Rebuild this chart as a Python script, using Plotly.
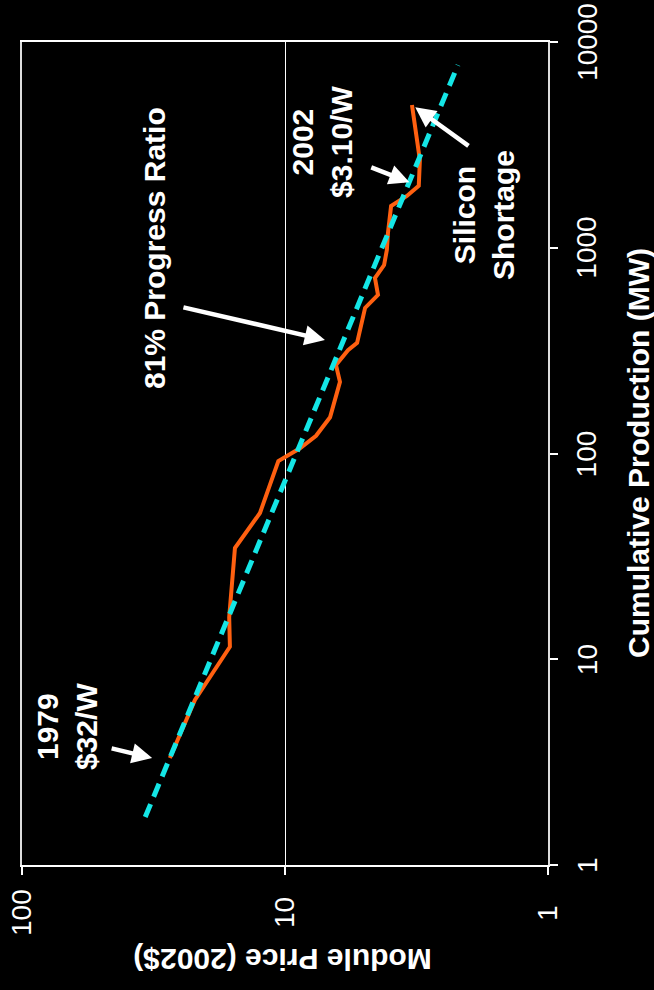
import math
import plotly.graph_objects as go

# Module price experience curve (2002$) against cumulative production
cum_mw = [3.31, 6.34, 11.5, 16.0, 34.7, 51.4, 91.9, 106, 122, 150, 223, 269, 318,
          345, 510, 590, 713, 824, 975, 1180, 1595, 1785, 2000, 2670, 4940]
price = [27.4, 22.0, 16.2, 16.3, 15.5, 12.45, 10.6, 8.77, 7.62, 6.74, 6.18, 6.40,
         5.76, 5.32, 4.96, 4.43, 4.55, 4.20, 4.10, 4.06, 3.95, 3.44, 3.10, 3.07, 3.29]

# Fitted experience line (81% progress ratio)
fit_mw = [1.71, 7730]
fit_price = [34.0, 2.20]

price_ticks = [100, 10, 1]
mw_ticks = [1, 10, 100, 1000, 10000]

FONT = "Liberation Sans, Arial, sans-serif"
WHITE = "#FFFFFF"

fig = go.Figure()
fig.add_trace(go.Scatter(x=price, y=cum_mw, mode="lines",
                         line=dict(color="#FF6010", width=4), showlegend=False))
fig.add_trace(go.Scatter(x=fit_price, y=fit_mw, mode="lines",
                         line=dict(color="#14E6E6", width=5, dash="14px,8px"),
                         showlegend=False))

fig.update_layout(
    width=654, height=990,
    margin=dict(l=22, r=106, t=42, b=125),
    paper_bgcolor="black", plot_bgcolor="black",
    font=dict(family=FONT, color=WHITE),
    xaxis=dict(type="log", range=[2, 0], tickvals=price_ticks, showticklabels=False,
               ticks="outside", ticklen=8, tickcolor=WHITE, tickwidth=1.5,
               showline=True, linecolor=WHITE, linewidth=1.5, mirror=True,
               showgrid=True, gridcolor=WHITE, gridwidth=1, zeroline=False),
    yaxis=dict(type="log", range=[0, 4], side="right", tickvals=mw_ticks,
               showticklabels=False, ticks="outside", ticklen=8, tickcolor=WHITE,
               tickwidth=1.5, showline=True, linecolor="#DDDDDD", linewidth=2,
               mirror=True, showgrid=False, zeroline=False),
)

# Rotated tick labels
tick_font = dict(family=FONT, size=28, color=WHITE)
for v in price_ticks:
    fig.add_annotation(text=str(v), x=math.log10(v), y=-0.0583, xref="x",
                       yref="paper", textangle=-90, showarrow=False,
                       font=tick_font, xanchor="center", yanchor="middle")
for v in mw_ticks:
    fig.add_annotation(text=str(v), x=1.074, y=math.log10(v), xref="paper",
                       yref="y", textangle=-90, showarrow=False,
                       font=tick_font, xanchor="center", yanchor="middle")

bold = dict(family=FONT, size=30, color=WHITE)
notes = [
    ("<b>Cumulative Production (MW)</b>", 1.171, 0.5006, -90),
    ("<b>Module Price (2002$)</b>", 0.496, -0.114, 180),
    ("<b>1979<br>$32/W</b>", 0.0856, 0.1677, -90),
    ("<b>81% Progress Ratio</b>", 0.2529, 0.7497, -90),
    ("<b>2002<br>$3.10/W</b>", 0.5703, 0.8785, -90),
    ("<b>Silicon<br>Shortage</b>", 0.8783, 0.7898, -90),
]
for text, x, y, ang in notes:
    fig.add_annotation(text=text, x=x, y=y, xref="paper", yref="paper",
                       textangle=ang, showarrow=False, font=bold,
                       xanchor="center", yanchor="middle")

# Arrows pointing at the curve (head at data point, tail offset in pixels)
arrows = [
    (32.0, 3.31, -42, -10, 0),
    (7.05, 356, -143, -33, 0),
    (3.10, 2000, -49, -19, 10),
    (3.29, 4940, 58, 42, 4),
]
for px, mw, ax, ay, so in arrows:
    fig.add_annotation(x=math.log10(px), y=math.log10(mw), xref="x", yref="y",
                       text="", showarrow=True, ax=ax, ay=ay, axref="pixel",
                       ayref="pixel", arrowhead=2, arrowsize=0.9, arrowwidth=4.5,
                       arrowcolor=WHITE, standoff=so)

fig.write_html("out.html")
